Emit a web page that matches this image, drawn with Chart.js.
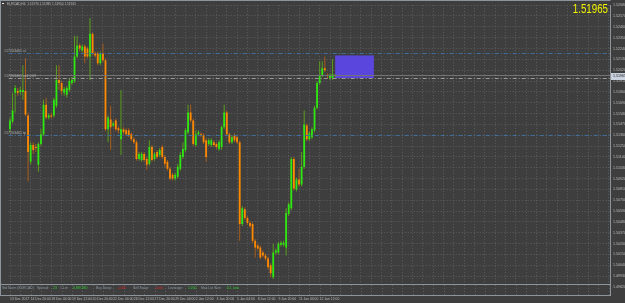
<!DOCTYPE html>
<html>
<head>
<meta charset="utf-8">
<script src="https://cdn.jsdelivr.net/npm/chart.js@4.4.1/dist/chart.umd.min.js"></script>
<style>
  html, body { margin: 0; padding: 0; background: #3d3d3d; }
  #wrap { width: 625px; height: 303px; }
</style>
</head>
<body>
<div id="wrap"><canvas id="chart" width="625" height="303"></canvas></div>
<script>
// EURCAD H4 candles, oldest first
const opens = [
  1.5142, 1.5150, 1.5179, 1.5181, 1.5180, 1.5180, 1.5181, 1.5156, 1.5109, 1.5126,
  1.5124, 1.5106, 1.5127, 1.5137, 1.5167, 1.5154, 1.5156, 1.5156, 1.5166, 1.5192,
  1.5189, 1.5179, 1.5177, 1.5182, 1.5189, 1.5191, 1.5216, 1.5227, 1.5222, 1.5226,
  1.5224, 1.5216, 1.5239, 1.5219, 1.5219, 1.5209, 1.5219, 1.5212, 1.5142, 1.5152,
  1.5146, 1.5151, 1.5143, 1.5132, 1.5142, 1.5141, 1.5141, 1.5137, 1.5132, 1.5129,
  1.5112, 1.5111, 1.5117, 1.5112, 1.5107, 1.5124, 1.5112, 1.5119, 1.5116, 1.5124,
  1.5114, 1.5109, 1.5102, 1.5096, 1.5092, 1.5094, 1.5102, 1.5114, 1.5121, 1.5139,
  1.5159, 1.5151, 1.5126, 1.5137, 1.5137, 1.5136, 1.5131, 1.5127, 1.5126, 1.5129,
  1.5127, 1.5122, 1.5124, 1.5144, 1.5159, 1.5137, 1.5129, 1.5136, 1.5134, 1.5129,
  1.5046, 1.5061, 1.5052, 1.5047, 1.5046, 1.5029, 1.5024, 1.5022, 1.5017, 1.5014,
  1.5011, 1.5004, 1.4992, 1.5017, 1.5017, 1.5025, 1.5025, 1.5022, 1.5056, 1.5062,
  1.5112, 1.5081, 1.5091, 1.5086, 1.5104, 1.5146, 1.5132, 1.5134, 1.5141, 1.5164,
  1.5189, 1.5197, 1.5204, 1.5197, 1.5194, 1.5194, 1.5196
];
const highs = [
  1.5154, 1.5179, 1.5187, 1.5184, 1.5185, 1.5207, 1.5214, 1.5159, 1.5129, 1.5129,
  1.5127, 1.5129, 1.5142, 1.5172, 1.5174, 1.5158, 1.5159, 1.5174, 1.5207, 1.5207,
  1.5191, 1.5185, 1.5186, 1.5194, 1.5195, 1.5237, 1.5237, 1.5229, 1.5228, 1.5228,
  1.5226, 1.5255, 1.5240, 1.5221, 1.5221, 1.5221, 1.5229, 1.5214, 1.5156, 1.5166,
  1.5150, 1.5153, 1.5145, 1.5182, 1.5144, 1.5143, 1.5143, 1.5139, 1.5134, 1.5131,
  1.5119, 1.5119, 1.5119, 1.5114, 1.5131, 1.5126, 1.5119, 1.5121, 1.5123, 1.5126,
  1.5116, 1.5111, 1.5104, 1.5098, 1.5098, 1.5107, 1.5119, 1.5129, 1.5143, 1.5167,
  1.5167, 1.5153, 1.5141, 1.5141, 1.5139, 1.5138, 1.5133, 1.5133, 1.5133, 1.5131,
  1.5129, 1.5131, 1.5146, 1.5167, 1.5161, 1.5139, 1.5136, 1.5138, 1.5136, 1.5131,
  1.5064, 1.5063, 1.5054, 1.5049, 1.5048, 1.5031, 1.5026, 1.5024, 1.5019, 1.5016,
  1.5013, 1.5006, 1.5026, 1.5021, 1.5028, 1.5029, 1.5029, 1.5062, 1.5068, 1.5114,
  1.5114, 1.5093, 1.5102, 1.5119, 1.5161, 1.5148, 1.5140, 1.5144, 1.5166, 1.5191,
  1.5211, 1.5211, 1.5216, 1.5199, 1.5199, 1.5213, 1.5198
];
const lows = [
  1.5139, 1.5148, 1.5159, 1.5176, 1.5177, 1.5172, 1.5155, 1.5089, 1.5106, 1.5117,
  1.5119, 1.5099, 1.5125, 1.5135, 1.5152, 1.5152, 1.5153, 1.5154, 1.5164, 1.5182,
  1.5177, 1.5176, 1.5174, 1.5180, 1.5187, 1.5189, 1.5214, 1.5221, 1.5220, 1.5209,
  1.5214, 1.5192, 1.5217, 1.5215, 1.5207, 1.5207, 1.5210, 1.5140, 1.5129, 1.5121,
  1.5144, 1.5140, 1.5138, 1.5116, 1.5137, 1.5135, 1.5134, 1.5130, 1.5127, 1.5110,
  1.5110, 1.5109, 1.5109, 1.5101, 1.5105, 1.5109, 1.5110, 1.5112, 1.5114, 1.5112,
  1.5104, 1.5100, 1.5090, 1.5090, 1.5090, 1.5092, 1.5100, 1.5112, 1.5119, 1.5137,
  1.5149, 1.5125, 1.5124, 1.5135, 1.5134, 1.5127, 1.5109, 1.5125, 1.5124, 1.5124,
  1.5122, 1.5120, 1.5121, 1.5142, 1.5135, 1.5127, 1.5127, 1.5129, 1.5127, 1.5029,
  1.5044, 1.5050, 1.5045, 1.5042, 1.5027, 1.5012, 1.5019, 1.5010, 1.5012, 1.5009,
  1.5000, 1.4992, 1.4990, 1.5015, 1.5015, 1.5023, 1.5023, 1.5014, 1.5054, 1.5060,
  1.5080, 1.5079, 1.5084, 1.5084, 1.5102, 1.5130, 1.5130, 1.5132, 1.5139, 1.5162,
  1.5187, 1.5195, 1.5200, 1.5194, 1.5192, 1.5192, 1.5195
];
const closes = [
  1.5151, 1.5161, 1.5184, 1.5179, 1.5182, 1.5182, 1.5157, 1.5119, 1.5126, 1.5121,
  1.5123, 1.5127, 1.5137, 1.5167, 1.5154, 1.5156, 1.5155, 1.5172, 1.5192, 1.5189,
  1.5181, 1.5183, 1.5184, 1.5191, 1.5192, 1.5216, 1.5227, 1.5224, 1.5226, 1.5216,
  1.5216, 1.5239, 1.5219, 1.5217, 1.5209, 1.5219, 1.5212, 1.5142, 1.5154, 1.5144,
  1.5148, 1.5142, 1.5141, 1.5142, 1.5139, 1.5137, 1.5136, 1.5132, 1.5129, 1.5112,
  1.5117, 1.5117, 1.5111, 1.5106, 1.5124, 1.5111, 1.5117, 1.5114, 1.5121, 1.5114,
  1.5107, 1.5102, 1.5092, 1.5092, 1.5096, 1.5104, 1.5116, 1.5122, 1.5141, 1.5159,
  1.5151, 1.5127, 1.5137, 1.5139, 1.5136, 1.5129, 1.5114, 1.5131, 1.5131, 1.5126,
  1.5124, 1.5129, 1.5144, 1.5159, 1.5137, 1.5129, 1.5134, 1.5131, 1.5129, 1.5046,
  1.5062, 1.5052, 1.5047, 1.5044, 1.5029, 1.5022, 1.5021, 1.5012, 1.5014, 1.5011,
  1.5002, 1.4996, 1.5017, 1.5019, 1.5026, 1.5027, 1.5027, 1.5057, 1.5066, 1.5112,
  1.5082, 1.5091, 1.5086, 1.5104, 1.5147, 1.5132, 1.5138, 1.5142, 1.5164, 1.5189,
  1.5197, 1.5204, 1.5202, 1.5196, 1.5197, 1.5198, 1.51965
];

// time axis: one slot per H4 bar, visible window holds 233 slots
const slotCount = 233;
const timeLabels = {
  0: '13 Dec 2017', 8: '14 Dec 20:00', 16: '18 Dec 04:00', 24: '19 Dec 12:00',
  32: '20 Dec 20:00', 40: '22 Dec 04:00', 48: '26 Dec 12:00', 56: '27 Dec 20:00',
  64: '29 Dec 04:00', 72: '2 Jan 12:00', 80: '3 Jan 20:00', 88: '5 Jan 04:00',
  96: '8 Jan 12:00', 104: '9 Jan 20:00', 112: '11 Jan 04:00', 120: '12 Jan 12:00'
};
const priceTicks = [
  1.5268, 1.5257, 1.5246, 1.5235, 1.5224, 1.5213, 1.5202, 1.5191, 1.5180,
  1.5169, 1.5158, 1.5147, 1.5136, 1.5125, 1.5114, 1.5103, 1.5092, 1.5081,
  1.5070, 1.5059, 1.5048, 1.5037, 1.5026, 1.5015, 1.5004, 1.4993, 1.4982
];

const headerText = 'EURCAD,H4  1.51970 1.51985 1.51950 1.51965';
const bidPrice = 1.51965;
const orderLevels = [1.5219, 1.5194, 1.5136];
const orderNames = ['#17203461 sl', '#17203461 sell 0.09', '#17203461 tp'];
const orderColors = ['#3d6e9c', '#9a9a9a', '#3d6e9c'];
const zoneBars = [126, 141];
const zonePrices = [1.5217, 1.5194];

const infoParts = [
  ['Std Norm (EURCAD)', '#8d99a6'], ['Spread:', '#8d99a6'], ['23', '#2fd22f'],
  ['1 Lot:', '#8d99a6'], ['0.88 USD', '#2fd22f'], ['Buy Swap:', '#8d99a6'],
  ['-0.00', '#e02a2a'], ['Sell Swap:', '#8d99a6'], ['-0.00', '#e02a2a'],
  ['Leverage:', '#8d99a6'], ['1:200', '#2fd22f'], ['Max Lot Size:', '#8d99a6'],
  ['0.1 Lots', '#2fd22f']
];
const infoX = [2, 37, 53, 60, 73, 96, 118, 133, 155, 168, 188, 201, 227];

const bgColor = '#3e3e3e';
const gridColor = '#5e5e5e';
const frameColor = '#8e949c';
const textColor = '#bcbcbc';
const font = 'Liberation Sans';

const slots = Array.from({ length: slotCount }, (_, i) => i);
const isUp = opens.map((o, i) => closes[i] >= o);
const bodyData = opens.map((o, i) => [o, closes[i]]);
const wickData = lows.map((l, i) => [l, highs[i]]);

const terminalDecor = {
  id: 'terminalDecor',
  beforeDraw(chart) {
    const { ctx, width, height } = chart;
    ctx.save();
    ctx.fillStyle = bgColor;
    ctx.fillRect(0, 0, width, height);
    ctx.restore();
  },
  beforeDatasetsDraw(chart) {
    const { ctx, scales: { x, y } } = chart;
    const x0 = x.getPixelForValue(zoneBars[0]);
    const x1 = x.getPixelForValue(zoneBars[1]);
    const y0 = y.getPixelForValue(zonePrices[0]);
    const y1 = y.getPixelForValue(zonePrices[1]);
    ctx.save();
    ctx.fillStyle = '#5a46dc';
    ctx.fillRect(x0, y0, x1 - x0, y1 - y0);
    ctx.restore();
  },
  afterDatasetsDraw(chart) {
    const { ctx, chartArea: area, scales: { y } } = chart;
    ctx.save();
    // bid line
    const by = Math.round(y.getPixelForValue(bidPrice)) - 0.5;
    ctx.strokeStyle = '#747474';
    ctx.lineWidth = 1;
    ctx.beginPath();
    ctx.moveTo(area.left, by);
    ctx.lineTo(area.right, by);
    ctx.stroke();
    // order lines
    ctx.font = '3.6px "' + font + '"';
    orderLevels.forEach((p, i) => {
      const ly = Math.round(y.getPixelForValue(p)) + 0.5;
      ctx.strokeStyle = orderColors[i];
      ctx.setLineDash([4, 2, 1, 2]);
      ctx.beginPath();
      ctx.moveTo(area.left, ly);
      ctx.lineTo(area.right, ly);
      ctx.stroke();
      ctx.setLineDash([]);
      ctx.fillStyle = '#b0b0b0';
      ctx.textBaseline = 'alphabetic';
      ctx.fillText(orderNames[i], 4, ly - 2);
    });
    ctx.restore();
  },
  afterDraw(chart) {
    const { ctx, chartArea: area, scales: { x, y } } = chart;
    ctx.save();
    // indicator sub-window
    const top = 284, bottom = 296;
    ctx.fillStyle = bgColor;
    ctx.fillRect(0, top, area.right, bottom - top);
    ctx.strokeStyle = gridColor;
    ctx.setLineDash([1, 2]);
    x.ticks.forEach((t, i) => {
      const gx = Math.round(x.getPixelForTick(i)) + 0.5;
      ctx.beginPath();
      ctx.moveTo(gx, top + 1);
      ctx.lineTo(gx, bottom - 1);
      ctx.stroke();
    });
    ctx.setLineDash([]);
    ctx.strokeStyle = frameColor;
    ctx.beginPath();
    ctx.moveTo(0, top + 0.5); ctx.lineTo(area.right + 0.5, top + 0.5);
    ctx.moveTo(0, bottom - 0.5); ctx.lineTo(area.right + 0.5, bottom - 0.5);
    ctx.moveTo(area.right + 0.5, top); ctx.lineTo(area.right + 0.5, bottom);
    ctx.moveTo(0.5, 0); ctx.lineTo(0.5, bottom);
    ctx.moveTo(0, 0.5); ctx.lineTo(area.right + 0.5, 0.5);
    ctx.stroke();
    ctx.font = '3.4px "' + font + '"';
    ctx.textBaseline = 'middle';
    infoParts.forEach(([txt, col], i) => {
      ctx.fillStyle = col;
      ctx.fillText(txt, infoX[i], top + 4.5);
    });
    // header text
    ctx.fillStyle = '#e8e8e8';
    ctx.fillRect(2, 3, 2, 1);
    ctx.fillStyle = textColor;
    ctx.font = '3.2px "' + font + '"';
    ctx.fillText(headerText, 7, 4);
    // big bid
    ctx.save();
    ctx.translate(608, 13);
    ctx.scale(0.78, 1);
    ctx.font = '12.5px "' + font + '"';
    ctx.textAlign = 'right';
    ctx.textBaseline = 'alphabetic';
    ctx.fillStyle = '#f2f200';
    ctx.fillText(bidPrice.toFixed(5), 0, 0);
    ctx.restore();
    // bid box on price axis
    const py = y.getPixelForValue(bidPrice);
    ctx.fillStyle = '#c9d2de';
    ctx.fillRect(area.right + 1, Math.round(py) - 3, 15, 7);
    ctx.fillStyle = '#1c1c1c';
    ctx.font = '3.6px "' + font + '"';
    ctx.textBaseline = 'middle';
    ctx.fillText(bidPrice.toFixed(5), area.right + 3, py + 0.5);
    ctx.restore();
  }
};

new Chart(document.getElementById('chart'), {
  type: 'bar',
  data: {
    labels: slots,
    datasets: [
      {
        label: 'Body',
        data: bodyData,
        backgroundColor: isUp.map(u => (u ? '#2ee812' : '#ff8a00')),
        barThickness: 1.8,
        minBarLength: 1,
        grouped: false,
        borderWidth: 0,
        inflateAmount: 0
      },
      {
        label: 'Wick',
        data: wickData,
        backgroundColor: isUp.map(u => (u ? '#5a9e1e' : '#a85d1c')),
        barThickness: 1,
        grouped: false,
        borderWidth: 0,
        inflateAmount: 0
      }
    ]
  },
  options: {
    responsive: false,
    animation: false,
    devicePixelRatio: 1,
    layout: { padding: { left: 2, top: 1, right: 0, bottom: 0 } },
    plugins: { legend: { display: false }, tooltip: { enabled: false } },
    scales: {
      x: {
        offset: true,
        grid: { offset: false, color: gridColor, drawTicks: false },
        border: { display: false, dash: [1, 2] },
        afterBuildTicks: s => { s.ticks = slots.filter(i => i % 4 === 0).map(i => ({ value: i })); },
        afterFit: s => { s.height = 16; },
        ticks: {
          autoSkip: false,
          maxRotation: 0,
          minRotation: 0,
          align: 'start',
          padding: 10,
          color: textColor,
          font: { size: 3.4, family: font },
          callback: v => timeLabels[v] || ''
        }
      },
      y: {
        position: 'right',
        min: 1.4982,
        max: 1.5268,
        grid: { color: gridColor, drawTicks: false },
        border: { display: true, color: frameColor, dash: [1, 2] },
        afterBuildTicks: s => { s.ticks = priceTicks.map(v => ({ value: v })); },
        afterFit: s => { s.width = 15; },
        ticks: {
          padding: 3,
          color: textColor,
          font: { size: 3.6, family: font },
          callback: v => v.toFixed(5)
        }
      }
    }
  },
  plugins: [terminalDecor]
});
</script>
</body>
</html>
